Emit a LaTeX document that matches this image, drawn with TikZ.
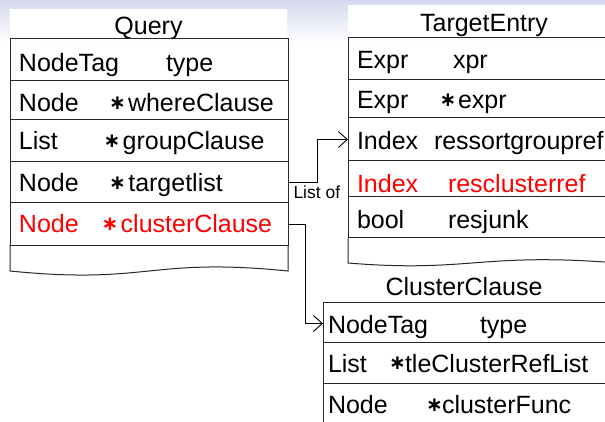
\documentclass[tikz,border=0pt]{standalone}
\usepackage{fontspec}
\setmainfont{Liberation Sans}
\newfontfamily\symfont{DejaVu Sans}
\usetikzlibrary{arrows.meta}

\definecolor{bandtop}{RGB}{214,217,239}
\definecolor{linec}{RGB}{40,40,40}
\definecolor{hl}{RGB}{255,0,0}

% pointer mark, centred on its own position with no width of its own
\newcommand{\ptrmark}{\makebox[0pt][c]{∗}}

\begin{document}
\begin{tikzpicture}[x=1pt,y=-1pt,
  txt/.style={anchor=base west, inner sep=0pt, outer sep=0pt,
              font=\fontsize{25}{25}\selectfont},
  hltxt/.style={txt, text=hl},
  ttl/.style={anchor=base, inner sep=0pt, outer sep=0pt,
              font=\fontsize{25}{25}\selectfont},
  star/.style={inner sep=0pt, outer sep=0pt,
               font=\symfont\bfseries\fontsize{20}{20}\selectfont},
  hlstar/.style={star, text=hl},
  rowbox/.style 2 args={draw=linec, line width=1pt, anchor=north west,
              inner sep=0pt, outer sep=0pt,
              minimum width=#1, minimum height=#2},
  boxline/.style={draw=linec, line width=1pt},
  conn/.style={draw=black, line width=0.9pt,
               -{Straight Barb[length=9pt,width=16pt,line width=0.9pt]}},
  small/.style={anchor=base west, inner sep=0pt, outer sep=0pt,
                font=\fontsize{17.5}{17.5}\selectfont}]

\useasboundingbox (0,0) rectangle (605,422);

% slide background band and the white title strips
\shade[top color=bandtop, bottom color=white] (0,0) rectangle (605,42);
\fill[white] (10,9) rectangle (287,39);
\fill[white] (348,5) rectangle (605,38);

% ---------------- Query ----------------
\node[ttl] (qtitle) at (148.5,35) {Query};
\node[rowbox={278}{42}] (q1) at (10,39) {};
\node[rowbox={278}{39}] (q2) at (10,81) {};
\node[rowbox={278}{42}] (q3) at (10,120) {};
\node[rowbox={278}{41}] (q4) at (10,162) {};
\node[rowbox={278}{42}] (q5) at (10,203) {};
\draw[boxline] (q5.south west) -- (10,271)
  .. controls (149,285) and (149,257) .. (288,271) -- (q5.south east);

\node[txt] (q1a) at (19,71.5) {NodeTag};
\node[txt] (q1b) at (166,71.5) {type};
\node[txt] (q2a) at (19,111.5) {Node};
\node[star] (q2s) at (117.5,103) {\ptrmark};
\node[txt] (q2b) at (128,111.5) {whereClause};
\node[txt] (q3a) at (19,150) {List};
\node[star] (q3s) at (112,141.5) {\ptrmark};
\node[txt] (q3b) at (122.7,150) {groupClause};
\node[txt] (q4a) at (19,191.5) {Node};
\node[star] (q4s) at (117.5,183) {\ptrmark};
\node[txt] (q4b) at (128.3,191.5) {targetlist};
\node[hltxt] (q5a) at (19,233) {Node};
\node[hlstar] (q5s) at (110,224.5) {\ptrmark};
\node[hltxt] (q5b) at (120.7,233) {clusterClause};

% ---------------- TargetEntry ----------------
\node[ttl] (ttitle) at (484,31.7) {TargetEntry};
\node[rowbox={270}{42}] (t1) at (348,38) {};
\node[rowbox={270}{38}] (t2) at (348,80) {};
\node[rowbox={270}{43}] (t3) at (348,118) {};
\node[rowbox={270}{36}] (t4) at (348,161) {};
\node[rowbox={270}{41}] (t5) at (348,197) {};
\draw[boxline] (t5.south west) -- (348,263)
  .. controls (470,273) and (480,252) .. (618,263) -- (t5.south east);

\node[txt] (t1a) at (357,68.5) {Expr};
\node[txt] (t1b) at (453,68.5) {xpr};
\node[txt] (t2a) at (357,108.3) {Expr};
\node[star] (t2s) at (448,99.8) {\ptrmark};
\node[txt] (t2b) at (458,108.3) {expr};
\node[txt] (t3a) at (357,150) {Index};
\node[txt] (t3b) at (434,150) {ressortgroupref};
\node[hltxt] (t4a) at (357,192.5) {Index};
\node[hltxt] (t4b) at (448,192.5) {resclusterref};
\node[txt] (t5a) at (357,228.3) {bool};
\node[txt] (t5b) at (448,228.3) {resjunk};

% ---------------- ClusterClause ----------------
\node[ttl] (ctitle) at (464,295) {ClusterClause};
\node[rowbox={290}{40}] (c1) at (323,302) {};
\node[rowbox={290}{41}] (c2) at (323,342) {};
\node[rowbox={290}{50}] (c3) at (323,383) {};

\node[txt] (c1a) at (328,333.3) {NodeTag};
\node[txt] (c1b) at (480,333.3) {type};
\node[txt] (c2a) at (328,372) {List};
\node[star] (c2s) at (397.5,363.5) {\ptrmark};
\node[txt] (c2b) at (405,372) {tleClusterRefList};
\node[txt] (c3a) at (328,413.5) {Node};
\node[star] (c3s) at (434.5,405) {\ptrmark};
\node[txt] (c3b) at (442,413.5) {clusterFunc};

% ---------------- references ----------------
\draw[conn] (q4.east) -- ++(29,0) |- (t3.west);
\node[small] (lbl) at (293.5,198.3) {List of};
\draw[conn] (q5.east) -- ++(17.5,0) |- ([yshift=-1.5pt]c1.west);

\end{tikzpicture}
\end{document}
